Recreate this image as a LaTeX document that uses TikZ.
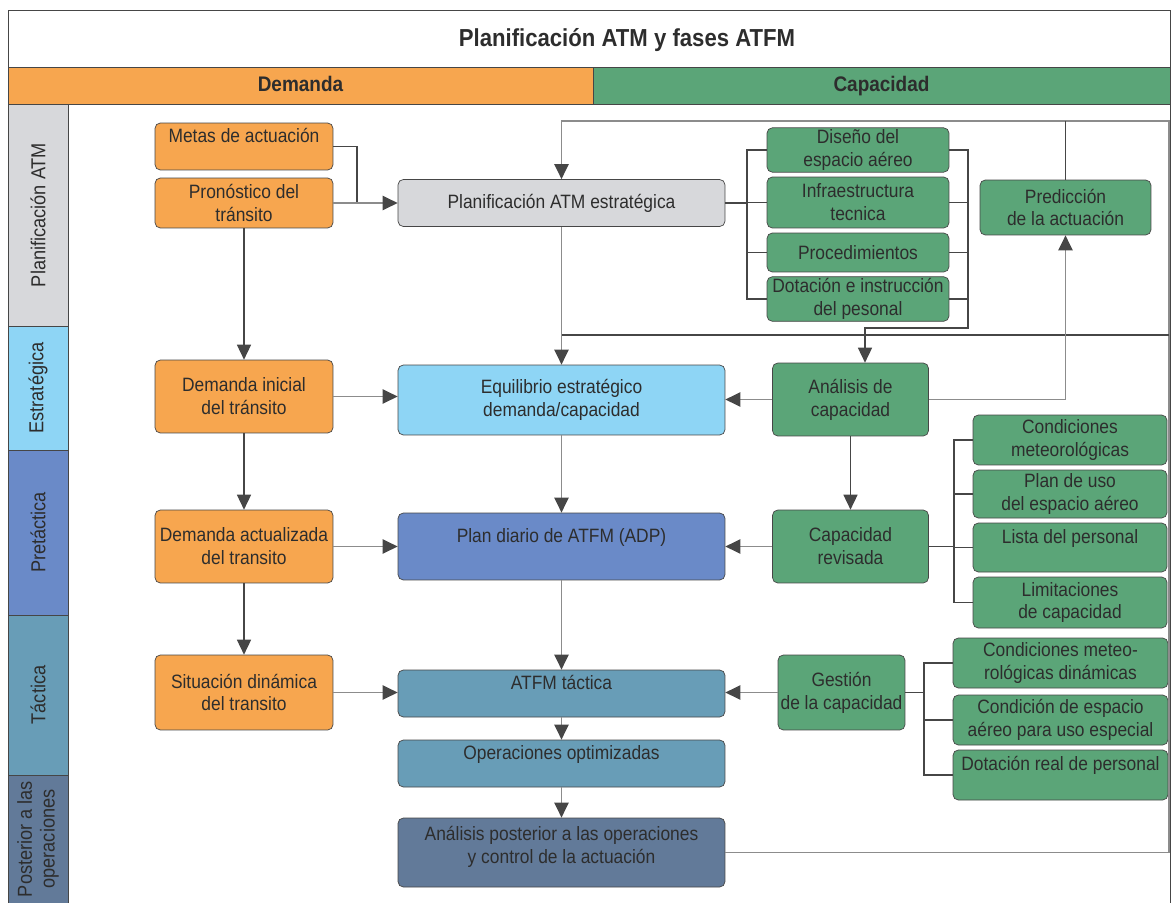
\documentclass[tikz,border=0pt]{standalone}
\usepackage{fontspec}
\setmainfont{Liberation Sans}[FakeStretch=0.9]
\usetikzlibrary{arrows.meta, positioning}

\definecolor{demcol}{RGB}{247,166,79}
\definecolor{capcol}{RGB}{91,165,120}
\definecolor{plancol}{RGB}{215,216,219}
\definecolor{estrcol}{RGB}{142,213,245}
\definecolor{pretcol}{RGB}{106,138,200}
\definecolor{tactcol}{RGB}{104,157,183}
\definecolor{postcol}{RGB}{98,122,153}
\definecolor{boxline}{RGB}{70,70,70}
\definecolor{textcol}{RGB}{45,45,45}
\definecolor{lndark}{RGB}{70,70,70}
\definecolor{lnlight}{RGB}{140,140,140}

\begin{document}
\begin{tikzpicture}[
        x=0.02cm, y=-0.02cm,
        font=\fontsize{11}{13}\selectfont,
        box/.style={draw=boxline, rounded corners=3pt, align=center, inner sep=1pt, text=textcol},
        dembox/.style={box, fill=demcol, minimum width=3.56cm},
        midbox/.style={box, minimum width=6.54cm},
        capbox/.style={box, fill=capcol},
        head/.style={draw=boxline, minimum height=0.74cm, inner sep=0pt, text height=1.7ex, text depth=0.3ex,
                     font=\fontsize{12}{14}\selectfont\bfseries, text=textcol},
        lane/.style={draw=boxline, rotate=90, minimum height=1.2cm, align=center, inner sep=1pt,
                     text=textcol, font=\fontsize{11.5}{13}\selectfont},
        dk/.style={draw=lndark, line width=0.7pt},
        lt/.style={draw=lnlight, line width=1.1pt},
        >={Triangle[width=8pt,length=8.5pt,color=lndark]}
      ]
        \useasboundingbox (0,0) rectangle (1171,903);

        % frame, title and headers
        \draw[boxline] (8,903) |- (1170,10) -- (1170,903);
        \draw[boxline] (8,67) -- (1170,67);
        \node[font=\fontsize{14}{16}\selectfont\bfseries, text=textcol] (title) at (627,40) {Planificación ATM y fases ATFM};
        \node[head, fill=demcol, minimum width=11.7cm] (demhead) at (300.5,85.5) {Demanda};
        \node[head, fill=capcol, minimum width=11.54cm] (caphead) at (881.5,85.5) {Capacidad};

        % phase lanes
        \node[lane, fill=plancol, minimum width=4.44cm] (lplan) at (38,215) {Planificación ATM};
        \node[lane, fill=estrcol, minimum width=2.48cm] (lestr) at (38,388) {Estratégica};
        \node[lane, fill=pretcol, minimum width=3.3cm] (lpret) at (38,532.5) {Pretáctica};
        \node[lane, fill=tactcol, minimum width=3.2cm] (ltact) at (38,695) {Táctica};
        \node[lane, fill=postcol, minimum width=2.56cm] (lpost) at (38,839) {Posterior a las\\operaciones};

        % demand column
        \node[dembox, minimum height=0.94cm] (metas) at (244,146.5) {Metas de actuación\\\mbox{}};
        \node[dembox, minimum height=1.0cm] (pronos) at (244,203) {Pronóstico del\\tránsito};
        \node[dembox, minimum height=1.46cm] (dinicial) at (244,396.5) {Demanda inicial\\del tránsito};
        \node[dembox, minimum height=1.46cm] (dactual) at (244,546.5) {Demanda actualizada\\del transito};
        \node[dembox, minimum height=1.5cm] (situ) at (244,692.5) {Situación dinámica\\del transito};

        % central column
        \node[midbox, fill=plancol, minimum height=0.94cm] (planatm) at (561.5,203) {Planificación ATM estratégica};
        \node[midbox, fill=estrcol, minimum height=1.4cm] (equil) at (561.5,400) {Equilibrio estratégico\\demanda/capacidad};
        \node[midbox, fill=pretcol, minimum height=1.34cm] (adp) at (561.5,546.5) {Plan diario de ATFM (ADP)\\\mbox{}};
        \node[midbox, fill=tactcol, minimum height=0.94cm] (tact) at (561.5,693.5) {ATFM táctica\\\mbox{}};
        \node[midbox, fill=tactcol, minimum height=0.94cm] (optim) at (561.5,763.5) {Operaciones optimizadas\\\mbox{}};
        \node[midbox, fill=postcol, minimum height=1.38cm] (post) at (561.5,852.5) {Análisis posterior a las operaciones\\y control de la actuación\\[-4pt]\mbox{}};

        % strategic capacity elements
        \node[capbox, minimum width=3.64cm, minimum height=0.88cm] (diseno) at (858,150) {Diseño del\\espacio aéreo};
        \node[capbox, minimum width=3.64cm, minimum height=1.02cm] (infra) at (858,202.5) {Infraestructura\\tecnica};
        \node[capbox, minimum width=3.64cm, minimum height=0.78cm] (proced) at (858,252.5) {Procedimientos};
        \node[capbox, minimum width=3.64cm, minimum height=0.88cm] (dotac) at (858,299) {Dotación e instrucción\\del pesonal};
        \node[capbox, minimum width=3.42cm, minimum height=1.1cm] (pred) at (1065.5,207.5) {Predicción\\de la actuación};

        % capacity column
        \node[capbox, minimum width=3.12cm, minimum height=1.46cm] (analisis) at (850.5,399.5) {Análisis de\\capacidad};
        \node[capbox, minimum width=3.12cm, minimum height=1.46cm] (caprev) at (850.5,546.5) {Capacidad\\revisada};
        \node[capbox, minimum width=2.54cm, minimum height=1.5cm] (gestion) at (841.5,692.5) {Gestión\\de la capacidad};

        % pre-tactical elements
        \node[capbox, minimum width=3.88cm, minimum height=1.0cm] (condmet) at (1070,440) {Condiciones\\meteorológicas};
        \node[capbox, minimum width=3.88cm, minimum height=0.96cm] (planuso) at (1070,494) {Plan de uso\\del espacio aéreo};
        \node[capbox, minimum width=3.88cm, minimum height=0.98cm] (lista) at (1070,547.5) {Lista del personal\\\mbox{}};
        \node[capbox, minimum width=3.88cm, minimum height=1.02cm] (limit) at (1070,602.5) {Limitaciones\\de capacidad};

        % tactical elements
        \node[capbox, minimum width=4.3cm, minimum height=1.0cm] (condmd) at (1060.5,663) {Condiciones meteo-\\rológicas dinámicas};
        \node[capbox, minimum width=4.3cm, minimum height=1.0cm] (condesp) at (1060.5,720) {Condición de espacio\\aéreo para uso especial};
        \node[capbox, minimum width=4.3cm, minimum height=1.0cm] (dotreal) at (1060.5,775) {Dotación real de personal\\\mbox{}};

        % helper points
        \coordinate (mj) at (357,0);
        \coordinate (b1) at (747,0);
        \coordinate (t1) at (968,328);
        \coordinate (t2) at (865,328);
        \coordinate (lr) at (1169,121);
        \coordinate (mr) at (1169,335);
        \coordinate (b3) at (954,0);
        \coordinate (b4) at (924,0);

        % demand flow
        \draw[dk] (metas.east) -| (mj |- pronos.east);
        \draw[lt,->] (pronos.east) -- (planatm.west);
        \draw[dk,->] (pronos.south) -- (dinicial.north);
        \draw[dk,->] (dinicial) -- (dactual);
        \draw[dk,->] (dactual) -- (situ);
        \draw[lt,->] (dinicial.east) -- (dinicial.east -| equil.west);
        \draw[lt,->] (dactual.east) -- (adp.west);
        \draw[lt,->] (situ.east) -- (situ.east -| tact.west);

        % central flow
        \draw[lt,->] (planatm) -- (equil);
        \draw[lt,->] (equil) -- (adp);
        \draw[lt,->] (adp) -- (tact);
        \draw[lt,->] (tact) -- (optim);
        \draw[lt,->] (optim) -- (post);

        % feedback loops
        \draw[lt,->] (post.east) -| (lr) -- (lr -| planatm.north) -- (planatm.north);
        \draw[dk] (mr) -- (mr -| planatm.south);
        \draw[dk] (pred.north) -- (pred.north |- lr);
        \draw[lt,->] (analisis.east) -| (pred.south);

        % strategic brackets
        \draw[dk] (planatm.east) -- (planatm.east -| b1);
        \draw[dk] (diseno.west) -- (diseno.west -| b1) -- (dotac.west -| b1) -- (dotac.west);
        \foreach \n in {infra, proced}
            \draw[dk] (\n.west) -- (\n.west -| b1);
        \draw[dk,->] (diseno.east) -| (t1) -- (t2) -- (t2 |- analisis.north);
        \foreach \n in {infra, proced, dotac}
            \draw[dk] (\n.east) -- (\n.east -| t1);

        % capacity flow
        \draw[lt,->] (analisis.west) -- (analisis.west -| equil.east);
        \draw[dk,->] (analisis) -- (caprev);
        \draw[lt,->] (caprev.west) -- (adp.east);
        \draw[lt,->] (gestion.west) -- (gestion.west -| tact.east);

        % pre-tactical and tactical brackets
        \draw[dk] (caprev.east) -- (caprev.east -| b3);
        \draw[dk] (condmet.west) -- (condmet.west -| b3) -- (limit.west -| b3) -- (limit.west);
        \foreach \n in {planuso, lista}
            \draw[dk] (\n.west) -- (\n.west -| b3);
        \draw[dk] (gestion.east) -- (gestion.east -| b4);
        \draw[dk] (condmd.west) -- (condmd.west -| b4) -- (dotreal.west -| b4) -- (dotreal.west);
        \draw[dk] (condesp.west) -- (condesp.west -| b4);
    \end{tikzpicture}
\end{document}
